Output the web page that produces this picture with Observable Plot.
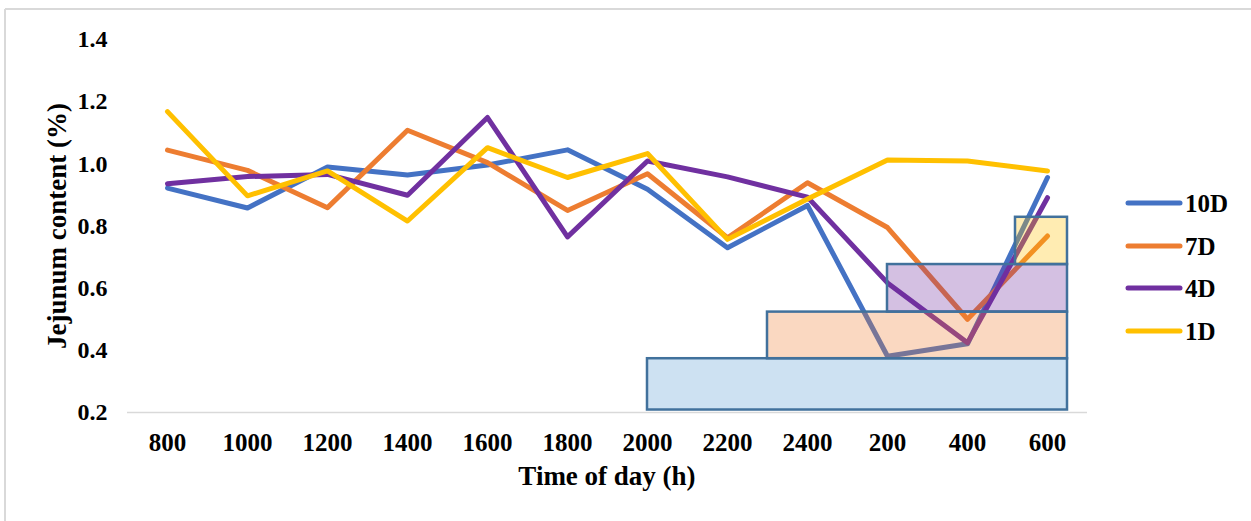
<!DOCTYPE html>
<html>
<head>
<meta charset="utf-8">
<script src="https://cdn.jsdelivr.net/npm/d3@7"></script>
<script src="https://cdn.jsdelivr.net/npm/@observablehq/plot@0.6"></script>
<style>
  html, body { margin: 0; padding: 0; background: #fff; }
  #wrap { position: relative; width: 1251px; height: 521px; overflow: hidden; }
</style>
</head>
<body>
<div id="wrap"></div>
<script>
// ---- data ----
const times = ["800", "1000", "1200", "1400", "1600", "1800", "2000", "2200", "2400", "200", "400", "600"];
const seriesNames = ["10D", "7D", "4D", "1D"];
const seriesColors = ["#4472c4", "#ed7d31", "#7030a0", "#ffc000"];
const s10D = [0.922, 0.858, 0.990, 0.964, 0.996, 1.045, 0.918, 0.730, 0.866, 0.381, 0.421, 0.956];
const s7D  = [1.044, 0.979, 0.859, 1.108, 1.004, 0.850, 0.968, 0.762, 0.939, 0.795, 0.500, 0.768];
const s4D  = [0.936, 0.959, 0.966, 0.899, 1.149, 0.765, 1.009, 0.958, 0.893, 0.617, 0.424, 0.891];
const s1D  = [1.168, 0.897, 0.977, 0.816, 1.052, 0.956, 1.033, 0.757, 0.887, 1.012, 1.009, 0.977];
const yTicks = [0.2, 0.4, 0.6, 0.8, 1.0, 1.2, 1.4];

// highlight boxes (index units on x, value units on y)
const boxStart  = [6, 7.5, 9, 10.6];
const boxEnd    = [11.25, 11.25, 11.25, 11.25];
const boxBottom = [0.208, 0.373, 0.523, 0.676];
const boxTop    = [0.373, 0.523, 0.676, 0.828];
const boxFill   = ["#5b9bd5", "#ed7d31", "#7030a0", "#ffc000"];

// ---- tables built from the arrays ----
const allSeries = [s10D, s7D, s4D, s1D];
const data = allSeries.flatMap((vals, k) =>
  vals.map((v, i) => ({ i, v, series: seriesNames[k] })));
const boxes = boxStart.map((x1, k) => ({
  x1, x2: boxEnd[k], y1: boxBottom[k], y2: boxTop[k], fill: boxFill[k]
}));

const font = "'Liberation Serif', 'Times New Roman', serif";

const chart = Plot.plot({
  width: 1251,
  height: 521,
  marginLeft: 127,
  marginRight: 164,
  marginTop: 39,
  marginBottom: 109,
  style: { fontFamily: font, fontWeight: "bold", fontSize: "24px", color: "#000", background: "transparent" },
  x: { domain: [-0.5, 11.5], axis: null },
  y: { domain: [0.2, 1.4], axis: null },
  color: { domain: seriesNames, range: seriesColors },
  marks: [
    Plot.ruleY([0.2], { stroke: "#d9d9d9", strokeWidth: 1.5 }),
    Plot.line(data, {
      x: "i", y: "v", z: "series", stroke: "series",
      strokeWidth: 5, strokeLinecap: "round", strokeLinejoin: "round"
    }),
    Plot.rect(boxes, {
      x1: "x1", x2: "x2", y1: "y1", y2: "y2",
      fill: d => d.fill, fillOpacity: 0.3,
      stroke: "#41719c", strokeWidth: 2.5
    }),
    Plot.axisX({
      ticks: d3.range(times.length), tickFormat: i => times[i],
      tickSize: 0, tickPadding: 21, label: null, fill: "#000", fontSize: 25
    }),
    Plot.axisY({
      ticks: yTicks, tickFormat: d3.format(".1f"),
      tickSize: 0, tickPadding: 20, label: null, fill: "#000", fontSize: 24
    })
  ]
});

document.getElementById("wrap").appendChild(chart);

// ---- decorations: frame border, axis titles, legend ----
const svg = d3.select(chart);
svg.append("line").attr("x1", 5).attr("x2", 1251).attr("y1", 9).attr("y2", 9)
  .attr("stroke", "#d9d9d9").attr("stroke-width", 2);
svg.append("line").attr("x1", 5).attr("x2", 5).attr("y1", 9).attr("y2", 521)
  .attr("stroke", "#d9d9d9").attr("stroke-width", 2);

svg.append("text")
  .attr("transform", "translate(57,226) rotate(-90)")
  .attr("text-anchor", "middle").attr("dy", "0.35em")
  .style("font-family", font).style("font-weight", "bold").style("font-size", "27px")
  .attr("fill", "#000")
  .text("Jejunum content (%)");

svg.append("text")
  .attr("x", 607).attr("y", 485)
  .attr("text-anchor", "middle")
  .style("font-family", font).style("font-weight", "bold").style("font-size", "27px")
  .attr("fill", "#000")
  .text("Time of day (h)");

const legendY = [203, 246, 288, 331];
seriesNames.forEach((name, k) => {
  const g = svg.append("g");
  g.append("line").attr("x1", 1128).attr("x2", 1180)
    .attr("y1", legendY[k]).attr("y2", legendY[k])
    .attr("stroke", seriesColors[k]).attr("stroke-width", 5).attr("stroke-linecap", "round");
  g.append("text").attr("x", 1185).attr("y", legendY[k]).attr("dy", "0.35em")
    .attr("text-anchor", "start")
    .style("font-family", font).style("font-weight", "bold").style("font-size", "25px")
    .attr("fill", "#000")
    .text(name);
});
</script>
</body>
</html>
